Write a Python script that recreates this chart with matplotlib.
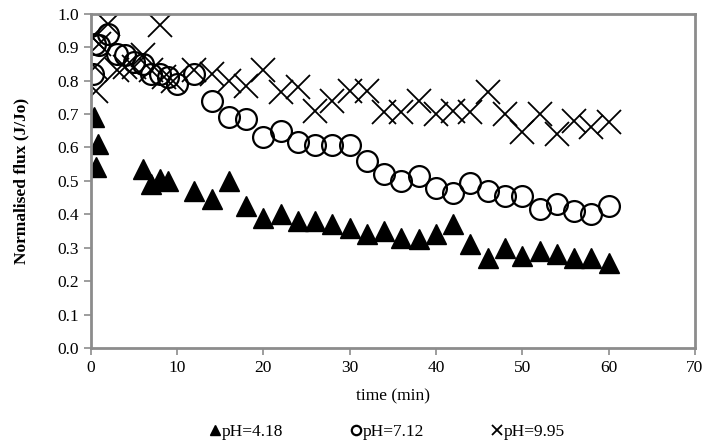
import matplotlib.pyplot as plt

plt.rcParams['font.family'] = ['Liberation Serif', 'DejaVu Serif']

# pH 4.18
t_a = [0.35, 0.8, 0.6, 6, 7, 8, 9, 12, 14, 16, 18, 20, 22, 24, 26, 28, 30, 32, 34, 36,
       38, 40, 42, 44, 46, 48, 50, 52, 54, 56, 58, 60]
v_a = [0.69, 0.61, 0.54, 0.535, 0.49, 0.505, 0.50, 0.47, 0.445, 0.50, 0.425, 0.39, 0.40,
       0.38, 0.38, 0.37, 0.36, 0.34, 0.35, 0.33, 0.325, 0.34, 0.37, 0.31, 0.27, 0.30,
       0.275, 0.29, 0.28, 0.27, 0.27, 0.255]

# pH 7.12
t_b = [0.2, 0.5, 1, 2, 3, 4, 5, 6, 7, 8, 9, 10, 12, 14, 16, 18, 20, 22, 24, 26, 28, 30,
       32, 34, 36, 38, 40, 42, 44, 46, 48, 50, 52, 54, 56, 58, 60]
v_b = [0.82, 0.91, 0.905, 0.94, 0.88, 0.875, 0.855, 0.85, 0.82, 0.82, 0.81, 0.79, 0.82,
       0.74, 0.69, 0.685, 0.63, 0.65, 0.615, 0.607, 0.607, 0.607, 0.56, 0.52, 0.50, 0.515,
       0.478, 0.463, 0.493, 0.47, 0.454, 0.454, 0.415, 0.43, 0.41, 0.40, 0.425]

# pH 9.95
t_c = [0.1, 0.6, 0.5, 1, 2, 3, 4, 5, 6, 7, 8, 8.5, 9.5, 12, 14, 16, 18, 20, 22, 24, 26,
       28, 30, 32, 34, 36, 38, 40, 42, 44, 46, 48, 50, 52, 54, 56, 58, 60]
v_c = [0.93, 0.77, 0.84, 0.91, 0.97, 0.83, 0.84, 0.84, 0.875, 0.83, 0.965, 0.81, 0.80,
       0.83, 0.82, 0.80, 0.785, 0.83, 0.765, 0.78, 0.71, 0.74, 0.77, 0.77, 0.706, 0.706,
       0.74, 0.70, 0.71, 0.706, 0.765, 0.70, 0.647, 0.70, 0.64, 0.68, 0.66, 0.677]

fig = plt.figure(figsize=(7.04, 4.41), dpi=100)
ax = fig.add_axes([0.129, 0.211, 0.858, 0.758])

ax.plot(t_a, v_a, ls='none', marker='^', ms=15, color='black', label='pH=4.18')
ax.plot(t_b, v_b, ls='none', marker='o', ms=15, mfc='none', mec='black', mew=1.6,
        label='pH=7.12')
ax.plot(t_c, v_c, ls='none', marker='x', ms=17, color='black', mew=1.3,
        label='pH=9.95')

ax.set_xlim(0, 70)
ax.set_ylim(0, 1.0)
ax.set_xticks(range(0, 71, 10))
ax.set_yticks([i / 10 for i in range(11)])
ax.set_yticklabels(['%.1f' % (i / 10) for i in range(11)])

for s in ax.spines.values():
    s.set_color('#8c8c8c')
    s.set_linewidth(2)
ax.tick_params(direction='out', length=5, width=1.2, color='#8c8c8c', labelsize=12.5,
               labelcolor='black')

ax.set_xlabel('time (min)', fontsize=12.5, labelpad=9)
ax.set_ylabel('Normalised flux (J/Jo)', fontsize=12.5, fontweight='bold', labelpad=20)

leg = fig.legend(loc='center', bbox_to_anchor=(0.55, 0.02), ncol=3, frameon=False,
                 fontsize=12.5, markerscale=0.45, handlelength=0.6, handletextpad=0.1,
                 columnspacing=3.9)

fig.savefig('out.png', dpi=100)
